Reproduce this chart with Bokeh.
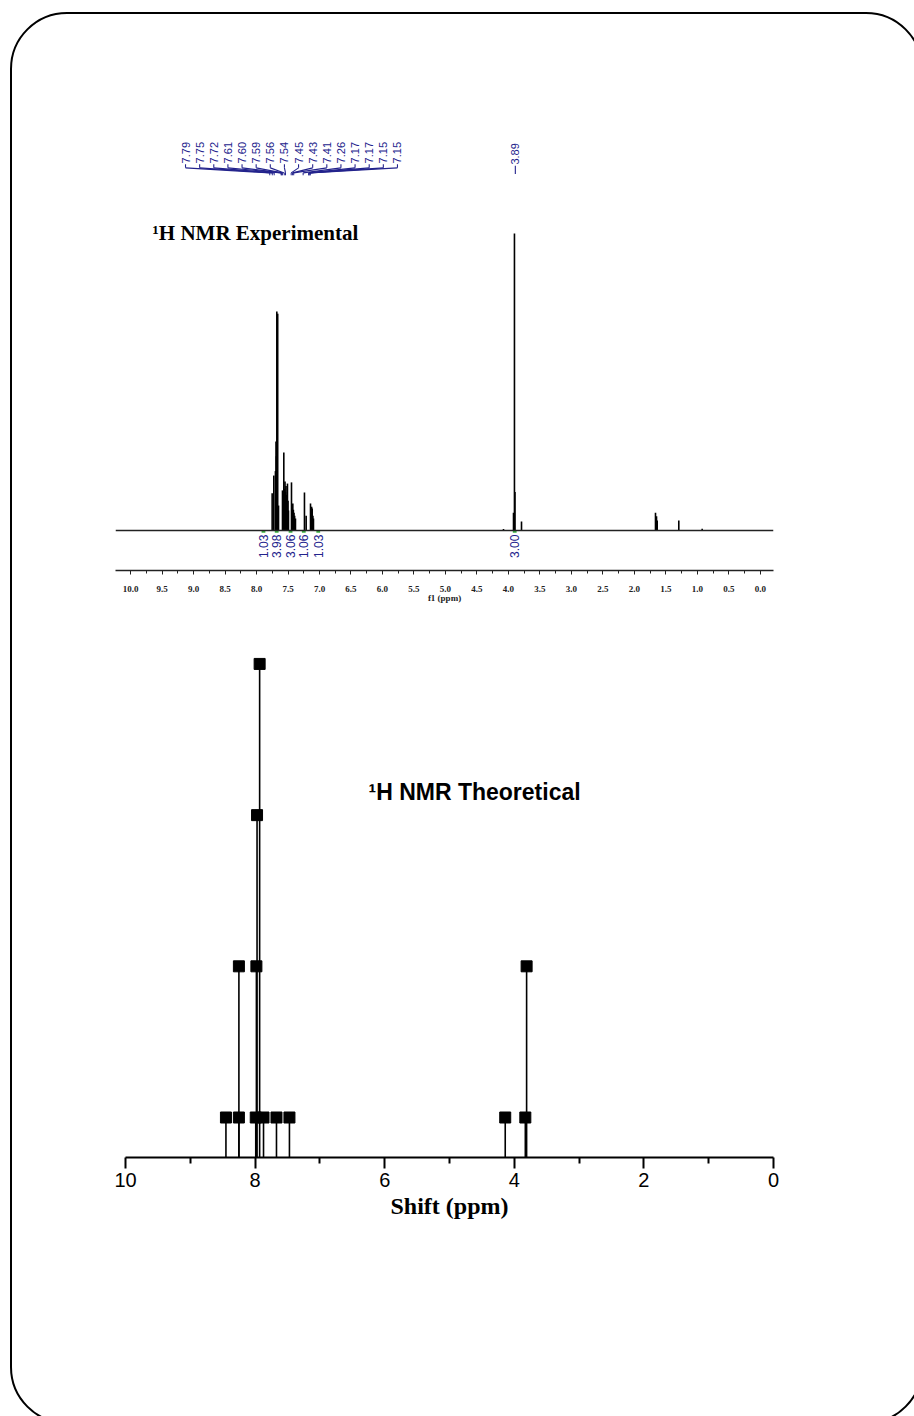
import numpy as np
from bokeh.plotting import figure
from bokeh.models import (Range1d, Label, FixedTicker, ColumnDataSource,
                          PrintfTickFormatter, Span, InlineStyleSheet)
from bokeh.layouts import column
from bokeh.embed import file_html
from bokeh.resources import INLINE
from bokeh.core.properties import value

# ---------------- Experimental spectrum ----------------
exp_ppm = [7.752, 7.726, 7.700, 7.691, 7.685, 7.678, 7.664, 7.651,
           7.588, 7.578, 7.567, 7.558, 7.548, 7.540, 7.532, 7.520, 7.509, 7.500, 7.493,
           7.445, 7.435, 7.424, 7.415, 7.405, 7.395, 7.382,
           7.239, 7.212,
           7.143, 7.135, 7.125, 7.116, 7.105, 7.096,
           4.078, 3.919, 3.904, 3.896, 3.792,
           1.664, 1.648, 1.637, 1.294, 0.923]
exp_int = [12.5, 18.5, 20.0, 30.0, 25.0, 73.7, 73.0, 8.4,
           13.5, 12.0, 26.3, 14.0, 16.5, 13.0, 15.0, 12.0, 15.8, 10.0, 6.7,
           16.2, 8.0, 9.1, 7.0, 6.0, 5.0, 4.0,
           12.8, 5.0,
           9.1, 7.0, 8.0, 7.4, 5.0, 4.0,
           0.5, 6.0, 100.0, 13.0, 3.0,
           6.0, 4.8, 3.4, 3.4, 0.6]

peak_labels = ["7.79", "7.75", "7.72", "7.61", "7.60", "7.59", "7.56", "7.54",
               "7.45", "7.43", "7.41", "7.26", "7.17", "7.17", "7.15", "7.15"]
peak_label_ppm = [7.79, 7.75, 7.72, 7.61, 7.60, 7.59, 7.56, 7.54,
                  7.45, 7.43, 7.41, 7.26, 7.17, 7.17, 7.15, 7.15]
single_label = ["3.89"]
single_label_ppm = [3.89]

integral_labels = ["1.03", "3.98", "3.06", "1.06", "1.03", "3.00"]
integral_ppm = [7.89, 7.68, 7.46, 7.25, 7.02, 3.90]

exp_ticks = [0.0, 0.5, 1.0, 1.5, 2.0, 2.5, 3.0, 3.5, 4.0, 4.5, 5.0,
             5.5, 6.0, 6.5, 7.0, 7.5, 8.0, 8.5, 9.0, 9.5, 10.0]
exp_minor = [0.25, 0.75, 1.25, 1.75, 2.25, 2.75, 3.25, 3.75, 4.25, 4.75,
             5.25, 5.75, 6.25, 6.75, 7.25, 7.75, 8.25, 8.75, 9.25, 9.75]

# ---------------- Theoretical stick spectrum ----------------
theo_ppm = [8.45, 8.25, 8.25, 7.99, 7.98, 7.97, 7.93, 7.87, 7.67, 7.47, 4.14, 3.83, 3.81]
theo_int = [1, 1, 2, 1, 2, 3, 4, 1, 1, 1, 1, 1, 2]
theo_ticks = [0, 2, 4, 6, 8, 10]
theo_minor = [1, 3, 5, 7, 9]

NAVY = "#23238c"
W = 914
H1, H2 = 628, 788

# ======================= top: experimental =======================
p1 = figure(width=W, height=H1, x_range=Range1d(10.24, -0.21), y_range=Range1d(-13.47, 144.78),
            output_backend="svg", toolbar_location=None, y_axis_location=None,
            min_border_left=115, min_border_right=141, min_border_top=100, min_border_bottom=58)
p1.frame_align = False
p1.outline_line_color = None
p1.grid.visible = False

p1.add_layout(Span(location=0, dimension="width", line_color="#222222", line_width=1.3))
p1.segment(x0=exp_ppm, y0=[0] * len(exp_ppm), x1=exp_ppm, y1=exp_int,
           line_color="black", line_width=1.6)

# peak labels above
lab_x = np.linspace(9.128, 5.762, len(peak_labels))
src_pl = ColumnDataSource(dict(x=lab_x, y=[123.6] * len(lab_x), text=peak_labels))
p1.text(x="x", y="y", text="text", source=src_pl, angle=np.pi / 2, text_align="left",
        text_baseline="middle", text_font=value("Liberation Sans"), text_font_size="11px",
        text_color=NAVY)
p1.segment(x0=lab_x, y0=[123.3] * len(lab_x), x1=lab_x, y1=[122.1] * len(lab_x),
           line_color=NAVY, line_width=1.1)
p1.segment(x0=lab_x, y0=[122.1] * len(lab_x), x1=peak_label_ppm, y1=[120.4] * len(lab_x),
           line_color=NAVY, line_width=1.1)
p1.segment(x0=peak_label_ppm, y0=[120.4] * len(lab_x), x1=peak_label_ppm, y1=[119.6] * len(lab_x),
           line_color=NAVY, line_width=1.0)

p1.text(x=single_label_ppm, y=[123.2], text=single_label, angle=np.pi / 2, text_align="left",
        text_baseline="middle", text_font=value("Liberation Sans"), text_font_size="11px",
        text_color=NAVY)
p1.segment(x0=single_label_ppm, y0=[122.8], x1=single_label_ppm, y1=[120.0],
           line_color=NAVY, line_width=1.1)

# integrals below baseline
p1.segment(x0=[v + 0.03 for v in integral_ppm], y0=[-0.4] * len(integral_ppm),
           x1=[v - 0.03 for v in integral_ppm], y1=[-0.4] * len(integral_ppm),
           line_color="#3cb043", line_width=2)
p1.text(x=integral_ppm, y=[-1.4] * len(integral_ppm), text=integral_labels, angle=np.pi / 2,
        text_align="right", text_baseline="middle", text_font=value("Liberation Sans"),
        text_font_size="12px", text_color=NAVY)

ax1 = p1.xaxis[0]
ax1.ticker = FixedTicker(ticks=exp_ticks, minor_ticks=exp_minor)
ax1.formatter = PrintfTickFormatter(format="%.1f")
ax1.axis_line_width = 1.3
ax1.axis_line_color = "#222222"
ax1.major_tick_out = 4
ax1.major_tick_in = 0
ax1.minor_tick_out = 3
ax1.minor_tick_in = 0
ax1.major_tick_line_color = "#222222"
ax1.minor_tick_line_color = "#222222"
ax1.major_label_text_font = "Liberation Serif"
ax1.major_label_text_font_style = "bold"
ax1.major_label_text_font_size = "9px"
ax1.major_label_text_color = "#222222"
ax1.major_label_standoff = 11
ax1.axis_label = "f1 (ppm)"
ax1.axis_label_text_font = "Liberation Serif"
ax1.axis_label_text_font_style = "bold"
ax1.axis_label_text_font_size = "9px"
ax1.axis_label_text_color = "#222222"
ax1.axis_label_standoff = -2

p1.add_layout(Label(x=9.652, y=100, text="¹H NMR Experimental", text_font="Liberation Serif",
                    text_font_style="bold", text_font_size="21px", text_baseline="middle",
                    text_color="black"))

# ======================= bottom: theoretical =======================
theo_floor = 0.7355
p2 = figure(width=W, height=H2, x_range=Range1d(10, 0), y_range=Range1d(theo_floor, 4.155),
            output_backend="svg", toolbar_location=None, y_axis_location=None,
            min_border_left=125, min_border_right=141, min_border_top=12, min_border_bottom=259)
p2.frame_align = False
p2.outline_line_color = None
p2.grid.visible = False

p2.segment(x0=theo_ppm, y0=[theo_floor] * len(theo_ppm), x1=theo_ppm, y1=theo_int,
           line_color="black", line_width=1.6)
p2.scatter(x=theo_ppm, y=theo_int, marker="square", size=11, color="black")

ax2 = p2.xaxis[0]
ax2.ticker = FixedTicker(ticks=theo_ticks, minor_ticks=theo_minor)
ax2.axis_line_width = 2
ax2.axis_line_color = "black"
ax2.major_tick_out = 11
ax2.major_tick_in = 0
ax2.minor_tick_out = 6
ax2.minor_tick_in = 0
ax2.major_tick_line_width = 2
ax2.minor_tick_line_width = 2
ax2.major_label_text_font = "Liberation Sans"
ax2.major_label_text_font_size = "20px"
ax2.major_label_text_color = "black"
ax2.major_label_standoff = 4
ax2.axis_label = "Shift (ppm)"
ax2.axis_label_text_font = "Liberation Serif"
ax2.axis_label_text_font_style = "bold"
ax2.axis_label_text_font_size = "24px"
ax2.axis_label_text_color = "black"
ax2.axis_label_standoff = 3

p2.add_layout(Label(x=6.25, y=3.156, text="¹H NMR Theoretical", text_font="Liberation Sans",
                    text_font_style="bold", text_font_size="23px", text_baseline="middle",
                    text_color="black"))

# rounded page frame (decoration only)
frame_css = InlineStyleSheet(css="""
:host { position: relative; overflow: hidden; }
:host::after {
  content: ""; position: absolute; left: 9.9px; top: 11.6px;
  width: 913px; height: 1412px; box-sizing: border-box;
  border: 2.2px solid #000; border-radius: 57px; pointer-events: none; z-index: 5;
}
""")

layout = column(p1, p2, spacing=0, stylesheets=[frame_css])
open("out.html", "w").write(file_html(layout, INLINE))
